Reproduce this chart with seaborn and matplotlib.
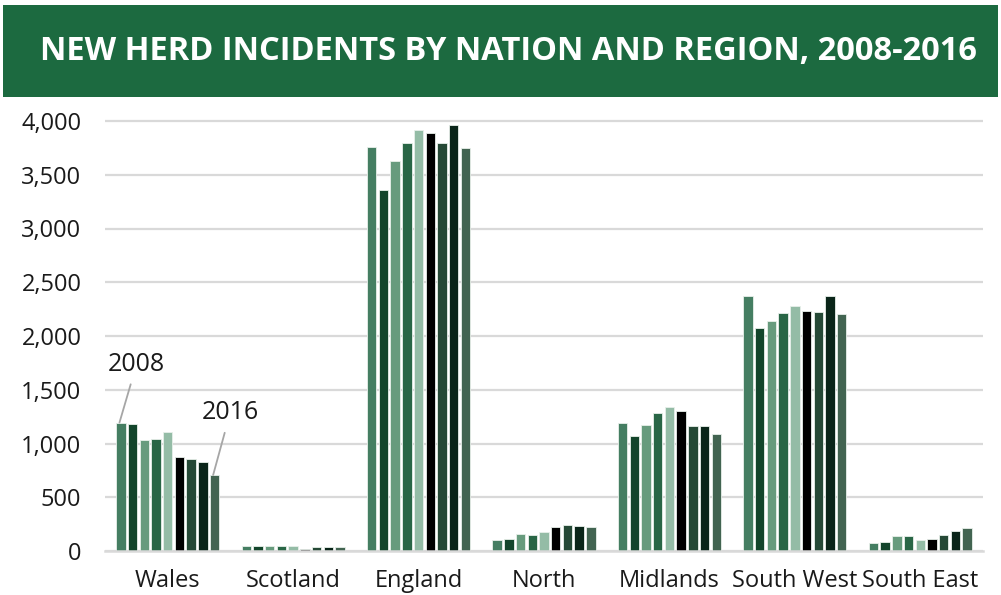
import matplotlib
matplotlib.use("Agg")
import matplotlib.pyplot as plt
from matplotlib.patches import Rectangle
import seaborn as sns
import pandas as pd

# New herd incidents per nation / region, one value per year 2008..2016
regions = ["Wales", "Scotland", "England", "North", "Midlands", "South West", "South East"]
years = ["2008", "2009", "2010", "2011", "2012", "2013", "2014", "2015", "2016"]

wales = [1195, 1181, 1035, 1042, 1104, 871, 856, 831, 707]
scotland = [45, 47, 42, 43, 46, 22, 40, 37, 33]
england = [3761, 3358, 3628, 3798, 3913, 3886, 3798, 3963, 3746]
north = [102, 109, 158, 152, 174, 220, 245, 233, 226]
midlands = [1194, 1067, 1169, 1281, 1340, 1302, 1166, 1160, 1091]
south_west = [2369, 2077, 2137, 2211, 2276, 2230, 2223, 2369, 2202]
south_east = [77, 84, 140, 140, 102, 112, 149, 184, 214]

year_colors = ["#3b8862", "#0b4d2a", "#5ea47c", "#1f7045", "#8dc3a5",
               "#000000", "#1f4f35", "#05291a", "#3c6a50"]

title = "NEW HERD INCIDENTS BY NATION AND REGION, 2008-2016"
y_ticks = [0, 500, 1000, 1500, 2000, 2500, 3000, 3500, 4000]

series = [wales, scotland, england, north, midlands, south_west, south_east]
rows = []
for reg, vals in zip(regions, series):
    for yr, v in zip(years, vals):
        rows.append({"region": reg, "year": yr, "incidents": v})
df = pd.DataFrame(rows)

sns.set_theme(style="white")
plt.rcParams["font.family"] = ["Open Sans", "DejaVu Sans"]

W, H = 1001, 595
fig = plt.figure(figsize=(W / 100, H / 100), dpi=100)
fig.patch.set_facecolor("white")

# Title banner
fig.add_artist(Rectangle((3 / W, 1 - 97 / H), 995 / W, 92 / H,
                         transform=fig.transFigure, facecolor="#1c6a40",
                         edgecolor="none"))
fig.text(508 / W, 1 - 51 / H, title, color="white", fontsize=23.5,
         fontweight="bold", ha="center", va="center")

ymax = 4100
px_per_unit = 0.1075
ax_bottom = 551
ax_top = ax_bottom - ymax * px_per_unit
ax = fig.add_axes([105 / W, 1 - ax_bottom / H, (983 - 105) / W,
                   (ax_bottom - ax_top) / H])

sns.barplot(data=df, x="region", y="incidents", hue="year", order=regions,
            hue_order=years, palette=year_colors, width=0.84, gap=0.2,
            edgecolor="#e8f0ea", linewidth=0.6, legend=False, ax=ax)

ax.set_ylim(0, ymax)
ax.set_xlim(-0.5, len(regions) - 0.5)
ax.set_yticks(y_ticks)
ax.set_yticklabels([f"{t:,}" for t in y_ticks])
ax.set_xlabel("")
ax.set_ylabel("")
ax.yaxis.grid(True, color="#d9d9d9", linewidth=1.6)
ax.set_axisbelow(True)
for side in ["left", "right", "top"]:
    ax.spines[side].set_visible(False)
ax.spines["bottom"].set_color("#d9d9d9")
ax.spines["bottom"].set_linewidth(1.8)
ax.tick_params(axis="y", length=0, pad=17, labelsize=17, labelcolor="#1a1a1a")
ax.tick_params(axis="x", length=0, pad=13, labelsize=17, labelcolor="#1a1a1a")

# Callouts for first and last year on the Wales group
first_bar = ax.containers[0][0]
last_bar = ax.containers[-1][0]
for bar, label, off in [(first_bar, "2008", (17, 58)), (last_bar, "2016", (17, 62))]:
    ax.annotate(label,
                xy=(bar.get_x() + bar.get_width() * 0.35, bar.get_height()),
                xytext=off, textcoords="offset pixels", ha="center", va="center",
                fontsize=18, color="#1a1a1a",
                arrowprops=dict(arrowstyle="-", color="#a6a6a6", lw=1.3,
                                shrinkA=3, shrinkB=0))

fig.savefig("out.png", dpi=100, facecolor="white")
